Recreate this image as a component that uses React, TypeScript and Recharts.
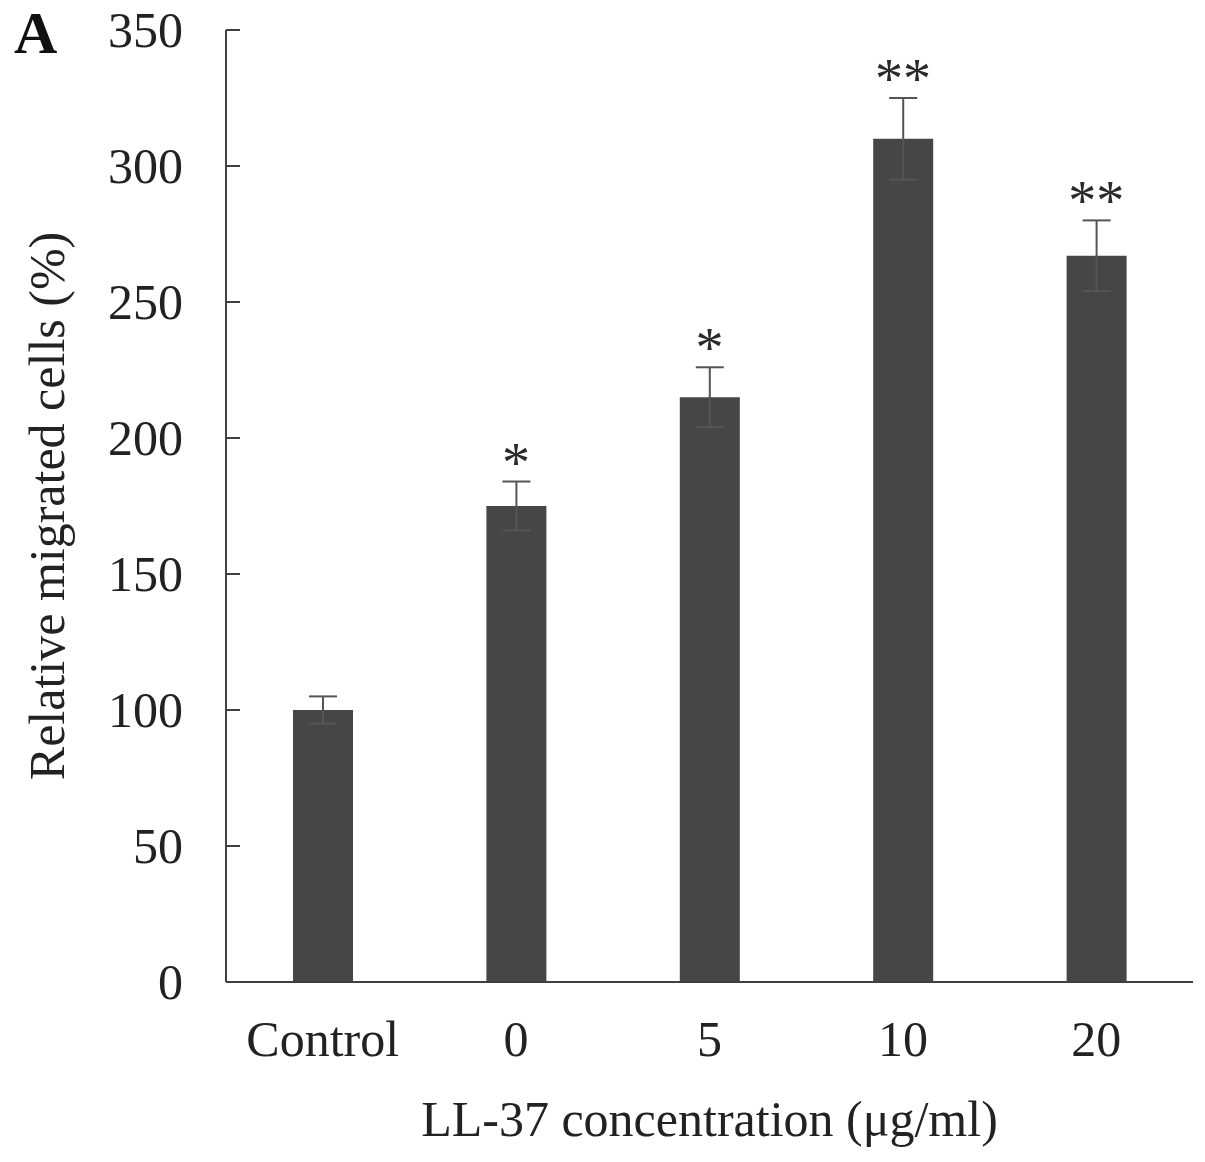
import React from 'react';
import { ComposedChart, Bar, Line, XAxis, YAxis, ErrorBar, LabelList } from 'recharts';

const categories = ['Control', '0', '5', '10', '20'];
const migrated = [100, 175, 215, 310, 267];
const errors = [5, 9, 11, 15, 13];
const marks = ['', '*', '*', '**', '**'];
const yTicks = [0, 50, 100, 150, 200, 250, 300, 350];

const data = categories.map((name, i) => ({
  name,
  value: migrated[i],
  err: errors[i],
  top: migrated[i] + errors[i],
  sig: marks[i],
}));

const serif = '"Liberation Serif", "Times New Roman", serif';
const ink = '#222';

// y ticks point inward, toward the bars
function YTick(props: any) {
  const { x, y, payload } = props;
  return (
    <g>
      <path d={`M${x},${y}h14`} stroke="#404040" strokeWidth={2} />
      <text x={x - 43} y={y} dy={17} textAnchor="end" fontFamily={serif} fontSize={50} fill={ink}>
        {payload.value}
      </text>
    </g>
  );
}

function Stars(props: any) {
  const { x, y, value } = props;
  if (!value) return null;
  return (
    <text x={x} y={y} textAnchor="middle" fontFamily={serif} fontSize={56} fill="#2a2a2a">
      {value}
    </text>
  );
}

export default function App() {
  return (
    <div style={{ position: 'absolute', left: 0, top: 0, background: '#fff' }}>
      <ComposedChart
        width={1205}
        height={1162}
        data={data}
        margin={{ top: 30, right: 12, bottom: 0, left: 0 }}
        barSize={60}
      >
        <XAxis
          dataKey="name"
          axisLine={{ stroke: '#404040', strokeWidth: 2 }}
          tickLine={false}
          tickMargin={32}
          height={180}
          tick={{ fontFamily: serif, fontSize: 50, fill: ink }}
          label={{
            value: 'LL-37 concentration (μg/ml)',
            position: 'insideBottom',
            offset: 26,
            fontFamily: serif,
            fontSize: 50,
            fill: ink,
          }}
        />
        <YAxis
          domain={[0, 350]}
          ticks={yTicks}
          interval={0}
          width={226}
          tickSize={0}
          tickMargin={0}
          tickLine={false}
          axisLine={{ stroke: '#404040', strokeWidth: 2 }}
          tick={<YTick />}
          label={{
            value: 'Relative migrated cells (%)',
            angle: -90,
            position: 'insideLeft',
            offset: 46,
            style: { textAnchor: 'middle' },
            fontFamily: serif,
            fontSize: 50,
            fill: ink,
          }}
        />
        <Bar dataKey="value" fill="#464646" isAnimationActive={false}>
          <ErrorBar dataKey="err" width={14} stroke="#555" strokeWidth={2} />
        </Bar>
        <Line
          dataKey="top"
          stroke="none"
          dot={false}
          activeDot={false}
          isAnimationActive={false}
        >
          <LabelList dataKey="sig" content={<Stars />} />
        </Line>
        <text x={14} y={53} fontFamily={serif} fontSize={60} fontWeight="bold" fill="#111">
          A
        </text>
      </ComposedChart>
    </div>
  );
}
